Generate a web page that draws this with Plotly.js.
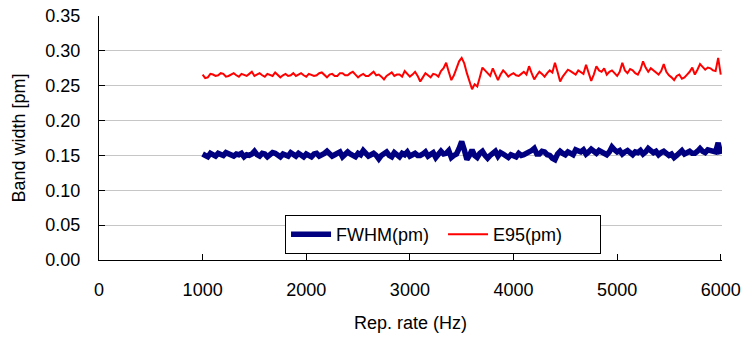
<!DOCTYPE html>
<html>
<head>
<meta charset="utf-8">
<script src="https://cdn.plot.ly/plotly-3.0.1.min.js"></script>
<style>html,body{margin:0;padding:0;background:#fff;}#chart{width:743px;height:337px;}</style>
</head>
<body>
<div id="chart"></div>
<script>
const repRate = [1000,1025,1050,1075,1100,1125,1150,1175,1200,1225,1250,1275,1300,1325,1350,1375,1400,1425,1450,1475,
1500,1525,1550,1575,1600,1625,1650,1675,1700,1725,1750,1775,1800,1825,1850,1875,1900,1925,1950,1975,
2000,2025,2050,2075,2100,2125,2150,2175,2200,2225,2250,2275,2300,2325,2350,2375,2400,2425,2450,2475,
2500,2525,2550,2575,2600,2625,2650,2675,2700,2725,2750,2775,2800,2825,2850,2875,2900,2925,2950,2975,
3000,3025,3050,3075,3100,3125,3150,3175,3200,3225,3250,3275,3300,3325,3350,3375,3400,3425,3450,3475,
3500,3525,3550,3575,3600,3625,3650,3675,3700,3725,3750,3775,3800,3825,3850,3875,3900,3925,3950,3975,
4000,4025,4050,4075,4100,4125,4150,4175,4200,4225,4250,4275,4300,4325,4350,4375,4400,4425,4450,4475,
4500,4525,4550,4575,4600,4625,4650,4675,4700,4725,4750,4775,4800,4825,4850,4875,4900,4925,4950,4975,
5000,5025,5050,5075,5100,5125,5150,5175,5200,5225,5250,5275,5300,5325,5350,5375,5400,5425,5450,5475,
5500,5525,5550,5575,5600,5625,5650,5675,5700,5725,5750,5775,5800,5825,5850,5875,5900,5925,5950,5975,6000];

const fwhm = [0.152,0.150,0.148,0.153,0.151,0.149,0.153,0.151,0.150,0.154,0.152,0.150,0.149,0.152,0.151,0.153,0.148,0.151,0.150,0.152,
0.156,0.151,0.149,0.153,0.152,0.148,0.150,0.154,0.153,0.150,0.148,0.152,0.151,0.149,0.154,0.151,0.149,0.153,0.151,0.148,
0.152,0.150,0.148,0.152,0.153,0.149,0.150,0.153,0.156,0.152,0.149,0.151,0.152,0.155,0.148,0.151,0.155,0.152,0.150,0.148,
0.153,0.151,0.157,0.152,0.149,0.151,0.153,0.150,0.145,0.150,0.152,0.155,0.150,0.148,0.154,0.151,0.148,0.153,0.151,0.155,
0.149,0.151,0.153,0.150,0.150,0.152,0.155,0.149,0.151,0.154,0.147,0.151,0.156,0.152,0.153,0.157,0.147,0.150,0.152,0.160,
0.170,0.158,0.144,0.150,0.158,0.150,0.147,0.153,0.156,0.150,0.146,0.150,0.153,0.156,0.149,0.154,0.152,0.149,0.147,0.151,
0.150,0.148,0.153,0.150,0.151,0.154,0.155,0.157,0.160,0.152,0.152,0.156,0.155,0.151,0.150,0.146,0.144,0.152,0.156,0.153,
0.151,0.155,0.154,0.151,0.158,0.156,0.155,0.158,0.152,0.155,0.159,0.156,0.153,0.157,0.155,0.152,0.151,0.155,0.162,0.158,
0.155,0.157,0.152,0.155,0.157,0.154,0.151,0.155,0.154,0.157,0.152,0.155,0.160,0.157,0.154,0.156,0.151,0.154,0.156,0.153,
0.150,0.152,0.147,0.150,0.154,0.157,0.152,0.155,0.156,0.153,0.153,0.156,0.160,0.156,0.154,0.158,0.157,0.154,0.155,0.168,0.152];

const e95 = [0.266,0.261,0.262,0.267,0.266,0.264,0.265,0.268,0.267,0.263,0.264,0.266,0.268,0.265,0.263,0.267,0.266,0.264,0.267,0.270,
0.264,0.266,0.268,0.265,0.263,0.267,0.266,0.264,0.269,0.266,0.262,0.265,0.267,0.264,0.265,0.268,0.264,0.266,0.268,0.265,
0.263,0.267,0.266,0.264,0.265,0.268,0.269,0.265,0.262,0.266,0.267,0.264,0.264,0.268,0.268,0.265,0.265,0.268,0.270,0.266,
0.262,0.265,0.267,0.264,0.264,0.267,0.270,0.265,0.266,0.263,0.259,0.264,0.267,0.269,0.264,0.266,0.266,0.263,0.271,0.267,
0.263,0.266,0.270,0.264,0.256,0.262,0.268,0.265,0.262,0.267,0.266,0.263,0.271,0.275,0.283,0.270,0.258,0.265,0.276,0.285,
0.290,0.282,0.268,0.255,0.245,0.252,0.249,0.262,0.276,0.272,0.268,0.264,0.275,0.266,0.258,0.266,0.272,0.268,0.263,0.266,
0.268,0.265,0.264,0.267,0.270,0.266,0.278,0.268,0.259,0.265,0.270,0.267,0.263,0.268,0.272,0.269,0.283,0.270,0.256,0.263,
0.268,0.273,0.271,0.268,0.266,0.272,0.270,0.267,0.280,0.268,0.257,0.266,0.278,0.272,0.270,0.275,0.266,0.270,0.272,0.268,
0.264,0.270,0.283,0.272,0.268,0.274,0.272,0.268,0.266,0.273,0.285,0.276,0.270,0.275,0.272,0.268,0.266,0.271,0.281,0.270,
0.265,0.262,0.258,0.264,0.266,0.260,0.262,0.266,0.270,0.276,0.266,0.273,0.281,0.277,0.273,0.276,0.275,0.272,0.271,0.290,0.266];

const xTicks = [0,1000,2000,3000,4000,5000,6000];
const yTicks = [0,0.05,0.10,0.15,0.20,0.25,0.30,0.35];
const yTickText = ["0.00","0.05","0.10","0.15","0.20","0.25","0.30","0.35"];

const font = 'Liberation Sans, Arial, sans-serif';

const traces = [
  {x: repRate, y: fwhm, type: 'scatter', mode: 'lines', name: 'FWHM(pm)',
   line: {color: '#000080', width: 5.5}},
  {x: repRate, y: e95, type: 'scatter', mode: 'lines', name: 'E95(pm)',
   line: {color: '#ff0000', width: 2}}
];

const layout = {
  width: 743, height: 337,
  margin: {l: 99, r: 21, t: 16, b: 77, autoexpand: false},
  paper_bgcolor: '#ffffff', plot_bgcolor: '#ffffff',
  font: {family: font, size: 18, color: '#000'},
  showlegend: true,
  legend: {orientation: 'h', x: 0.2986, y: 0.184, xanchor: 'left', yanchor: 'top',
    bordercolor: '#000', borderwidth: 1, bgcolor: '#fff',
    entrywidth: 102, entrywidthmode: 'pixels',
    font: {family: font, size: 18, color: '#000'}, itemwidth: 40, tracegroupgap: 0},
  xaxis: {
    range: [0, 6012], tickvals: xTicks, ticktext: xTicks.map(String),
    showgrid: false, zeroline: false, showline: true, linecolor: '#000', linewidth: 1,
    ticks: 'inside', ticklen: 6, tickcolor: '#000', ticklabelstandoff: 13,
    title: {text: 'Rep. rate (Hz)', font: {family: font, size: 18}, standoff: 17}
  },
  yaxis: {
    range: [0, 0.35], tickvals: yTicks, ticktext: yTickText,
    showgrid: true, gridcolor: '#c6c6c6', gridwidth: 1,
    zeroline: false, showline: true, linecolor: '#000', linewidth: 1,
    ticks: 'inside', ticklen: 6, tickcolor: '#000', ticklabelstandoff: 14,
    title: {text: 'Band width [pm]', font: {family: font, size: 18}, standoff: 15}
  }
};

Plotly.newPlot('chart', traces, layout, {displayModeBar: false, staticPlot: true});
</script>
</body>
</html>
